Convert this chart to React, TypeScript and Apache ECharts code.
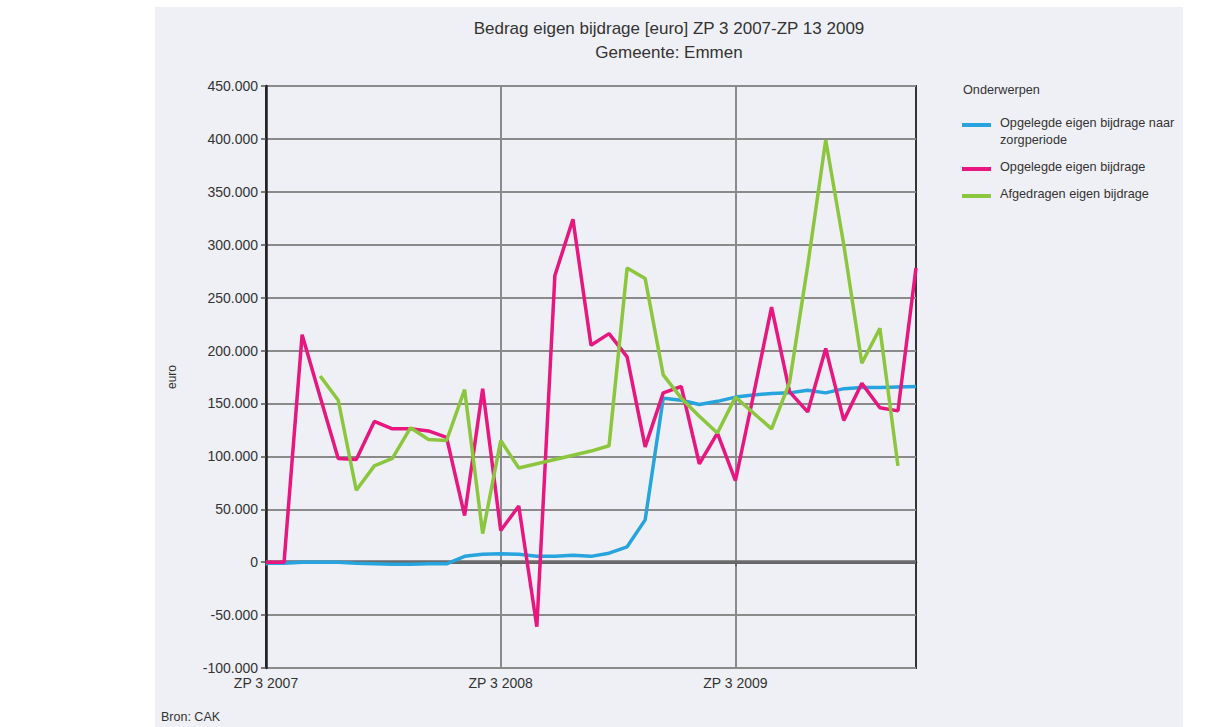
import React, { useEffect, useRef } from "react";
import * as echarts from "echarts";

const categories = [
  "ZP 3 2007", "ZP 4 2007", "ZP 5 2007", "ZP 6 2007", "ZP 7 2007", "ZP 8 2007", "ZP 9 2007",
  "ZP 10 2007", "ZP 11 2007", "ZP 12 2007", "ZP 13 2007",
  "ZP 1 2008", "ZP 2 2008", "ZP 3 2008", "ZP 4 2008", "ZP 5 2008", "ZP 6 2008", "ZP 7 2008",
  "ZP 8 2008", "ZP 9 2008", "ZP 10 2008", "ZP 11 2008", "ZP 12 2008", "ZP 13 2008",
  "ZP 1 2009", "ZP 2 2009", "ZP 3 2009", "ZP 4 2009", "ZP 5 2009", "ZP 6 2009", "ZP 7 2009",
  "ZP 8 2009", "ZP 9 2009", "ZP 10 2009", "ZP 11 2009", "ZP 12 2009", "ZP 13 2009",
];

const labeledCategories = ["ZP 3 2007", "ZP 3 2008", "ZP 3 2009"];

const naarZorgperiode = [
  -1000, -1000, 0, 0, 0, -1000, -1500, -2000, -2000, -1500, -1500,
  5500, 7500, 8000, 7500, 5500, 5500, 6500, 5500, 8500, 14500, 40000, 155000, 153000,
  149000, 152000, 156000, 158000, 159500, 160000, 162500, 160000, 164000, 165000, 165000, 165500, 166000,
];

const opgelegd = [
  0, 0, 215000, 156000, 98000, 97000, 133000, 126000, 126000, 124000, 118000,
  44000, 164000, 30000, 53000, -61000, 271000, 324000, 205000, 216000, 194000, 109000, 160000, 166000,
  93000, 122000, 77000, 158000, 241000, 161000, 142000, 202000, 134000, 169000, 146000, 143000, 278000,
];

const afgedragen = [
  null, null, null, 176000, 153000, 68000, 91000, 98000, 127000, 116000, 115000,
  163000, 27000, 115000, 89000, 93000, 97000, 101000, 105000, 110000, 278000, 268000, 177000, 155000,
  138000, 122000, 156000, 141000, 126000, 170000, 280000, 399000, 300000, 188000, 221000, 91000, null,
];

const seriesNames = [
  "Opgelegde eigen bijdrage naar zorgperiode",
  "Opgelegde eigen bijdrage",
  "Afgedragen eigen bijdrage",
];
const legendLines = [
  ["Opgelegde eigen bijdrage naar", "zorgperiode"],
  ["Opgelegde eigen bijdrage"],
  ["Afgedragen eigen bijdrage"],
];
const colors = ["#27a3dd", "#e8177f", "#8cc63e"];

const FONT = "'Liberation Sans', Arial, sans-serif";

function fmt(v: number) {
  if (v === 0) return "0";
  const neg = v < 0;
  const s = Math.abs(v).toString().replace(/\B(?=(\d{3})+(?!\d))/g, ".");
  return (neg ? "-" : "") + s;
}

export default function App() {
  const ref = useRef<HTMLDivElement>(null);
  useEffect(() => {
    document.body.style.margin = "0";
    const chart = echarts.init(ref.current!, undefined, { renderer: "svg" });
    const labelIdx = labeledCategories.map((c) => categories.indexOf(c));
    const legendItems: any[] = [];
    const swatchY = [125, 169, 196];
    const textY = [123, 167, 194];
    legendLines.forEach((lines, i) => {
      legendItems.push({
        type: "rect",
        shape: { x: 962, y: swatchY[i] - 2, width: 29, height: 4 },
        style: { fill: colors[i] },
      });
      lines.forEach((ln, j) => {
        legendItems.push({
          type: "text",
          x: 1000,
          y: textY[i] + j * 17,
          style: {
            text: ln,
            font: `12.7px ${FONT}`,
            fill: "#333",
            align: "left",
            verticalAlign: "middle",
          },
        });
      });
    });

    chart.setOption({
      animation: false,
      textStyle: { fontFamily: FONT },
      graphic: [
        {
          type: "rect",
          z: -10,
          silent: true,
          shape: { x: 155, y: 7, width: 1028, height: 720 },
          style: { fill: "#eff0f5" },
        },
        {
          type: "text",
          x: 669,
          y: 28,
          style: {
            text: "Bedrag eigen bijdrage [euro] ZP 3 2007-ZP 13 2009",
            font: `17px ${FONT}`,
            fill: "#333",
            align: "center",
            verticalAlign: "middle",
          },
        },
        {
          type: "text",
          x: 669,
          y: 52,
          style: {
            text: "Gemeente: Emmen",
            font: `17px ${FONT}`,
            fill: "#333",
            align: "center",
            verticalAlign: "middle",
          },
        },
        {
          type: "text",
          x: 963,
          y: 90,
          style: {
            text: "Onderwerpen",
            font: `12.7px ${FONT}`,
            fill: "#333",
            align: "left",
            verticalAlign: "middle",
          },
        },
        ...legendItems,
        {
          type: "text",
          x: 161,
          y: 717,
          style: {
            text: "Bron: CAK",
            font: `12.5px ${FONT}`,
            fill: "#333",
            align: "left",
            verticalAlign: "middle",
          },
        },
      ],
      grid: {
        left: 266,
        right: 305,
        top: 86,
        bottom: 59,
        show: true,
        borderColor: "#333",
        borderWidth: 2,
        backgroundColor: "transparent",
      },
      xAxis: {
        type: "category",
        data: categories,
        boundaryGap: false,
        axisLine: { lineStyle: { color: "#222", width: 2.5 } },
        axisTick: {
          show: true,
          interval: (i: number) => labelIdx.includes(i),
          length: 4,
          lineStyle: { color: "#555", width: 1.5 },
        },
        axisLabel: {
          interval: (i: number) => labelIdx.includes(i),
          color: "#333",
          fontSize: 14,
          margin: 8,
          fontFamily: FONT,
        },
        splitLine: {
          show: true,
          interval: (i: number) => labelIdx.includes(i) && i !== 0,
          lineStyle: { color: "#8a8a8a", width: 2 },
        },
      },
      yAxis: {
        type: "value",
        min: -100000,
        max: 450000,
        interval: 50000,
        name: "euro",
        nameLocation: "middle",
        nameGap: 88,
        nameRotate: 90,
        nameTextStyle: { color: "#333", fontSize: 12, fontFamily: FONT },
        axisLine: { show: true, lineStyle: { color: "#222", width: 2.5 } },
        axisTick: { show: true, length: 5, lineStyle: { color: "#555", width: 1.5 } },
        axisLabel: {
          formatter: (v: number) => fmt(v),
          color: "#333",
          fontSize: 14,
          margin: 8,
          fontFamily: FONT,
        },
        splitLine: { show: true, lineStyle: { color: "#8a8a8a", width: 2 } },
      },
      series: [
        {
          name: seriesNames[0],
          type: "line",
          data: naarZorgperiode,
          symbol: "none",
          lineStyle: { color: colors[0], width: 3.5 },
          itemStyle: { color: colors[0] },
          z: 3,
          markLine: {
            silent: true,
            symbol: "none",
            label: { show: false },
            lineStyle: { color: "#6a6a6a", width: 3.5, type: "solid" },
            data: [{ yAxis: 0 }],
            z: 1,
          },
        },
        {
          name: seriesNames[1],
          type: "line",
          data: opgelegd,
          symbol: "none",
          lineStyle: { color: colors[1], width: 3.5 },
          itemStyle: { color: colors[1] },
          z: 4,
        },
        {
          name: seriesNames[2],
          type: "line",
          data: afgedragen,
          symbol: "none",
          connectNulls: false,
          lineStyle: { color: colors[2], width: 3.5 },
          itemStyle: { color: colors[2] },
          z: 5,
        },
      ],
    });
    return () => chart.dispose();
  }, []);
  return <div ref={ref} style={{ width: 1221, height: 727 }} />;
}
